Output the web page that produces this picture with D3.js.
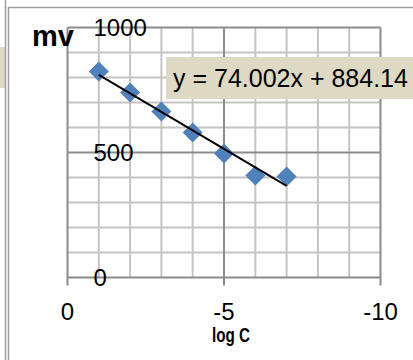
<!DOCTYPE html>
<html>
<head>
<meta charset="utf-8">
<script src="https://cdn.jsdelivr.net/npm/d3@7"></script>
<style>
    body { margin: 0; background: #fff; }
    svg { display: block; }
</style>
</head>
<body>
<div id="vis"></div>
<script>
// data
var logC = [-1, -2, -3, -4, -5, -6, -7];
var mv = [824, 740, 664, 580, 496, 408, 404];
var xTicks = [0, -5, -10];
var yTicks = [0, 500, 1000];
var slope = 74.002;
var intercept = 884.14;
var equation = "y = 74.002x + 884.14";

(function () {
    /* ****** Sizes ****** */
    var width = 413;
    var height = 360;
    var plot = { left: 67.5, top: 27.5, right: 380.5, bottom: 277.5 };

    var svg = d3.select("#vis")
        .append("svg")
        .attr("width", width)
        .attr("height", height);

    /* ****** Outer frame bits ****** */
    svg.append("rect")
        .attr("x", 0).attr("y", 47)
        .attr("width", 5).attr("height", 41)
        .attr("fill", "#ddd9c3");
    svg.append("line")
        .attr("x1", 5.5).attr("x2", 5.5).attr("y1", 0).attr("y2", height)
        .attr("stroke", "#a0a0a0").attr("stroke-width", 1.5);
    svg.append("line")
        .attr("x1", 8.5).attr("x2", 8.5).attr("y1", 7).attr("y2", height)
        .attr("stroke", "#a0a0a0").attr("stroke-width", 1.5);
    svg.append("line")
        .attr("x1", 8.5).attr("x2", width).attr("y1", 7.5).attr("y2", 7.5)
        .attr("stroke", "#a0a0a0").attr("stroke-width", 1.5);

    /* ****** Scales ****** */
    var x = d3.scaleLinear().domain([0, -10]).range([plot.left, plot.right]);
    var y = d3.scaleLinear().domain([0, 1000]).range([plot.bottom, plot.top]);

    var g = svg.append("g");

    /* ****** Grid ****** */
    var minorX = d3.range(1, 10).map(function (i) { return -i; }).filter(function (v) { return v % 5 != 0; });
    var minorY = d3.range(100, 1000, 100).filter(function (v) { return v % 500 != 0; });

    g.selectAll(".vminor").data(minorX).enter().append("line")
        .attr("x1", function (d) { return x(d); }).attr("x2", function (d) { return x(d); })
        .attr("y1", plot.top).attr("y2", plot.bottom)
        .attr("stroke", "#c4c4c4").attr("stroke-width", 2);
    g.selectAll(".hminor").data(minorY).enter().append("line")
        .attr("y1", function (d) { return y(d); }).attr("y2", function (d) { return y(d); })
        .attr("x1", plot.left).attr("x2", plot.right)
        .attr("stroke", "#c4c4c4").attr("stroke-width", 2);

    g.selectAll(".vmajor").data(xTicks).enter().append("line")
        .attr("x1", function (d) { return x(d); }).attr("x2", function (d) { return x(d); })
        .attr("y1", plot.top).attr("y2", plot.bottom + 8)
        .attr("stroke", "#8c8c8c").attr("stroke-width", 2);
    g.selectAll(".hmajor").data(yTicks).enter().append("line")
        .attr("y1", function (d) { return y(d); }).attr("y2", function (d) { return y(d); })
        .attr("x1", plot.left).attr("x2", plot.right)
        .attr("stroke", "#8c8c8c").attr("stroke-width", 2);

    /* ****** Tick labels ****** */
    g.selectAll(".ylab").data(yTicks).enter().append("text")
        .attr("x", plot.left + 26)
        .attr("y", function (d) { return y(d) + 8.5; })
        .attr("font-family", "Liberation Sans, Arial, sans-serif")
        .attr("font-size", 24)
        .attr("fill", "#000")
        .text(function (d) { return d; });

    g.selectAll(".xlab").data(xTicks).enter().append("text")
        .attr("x", function (d) { return x(d); })
        .attr("y", 320)
        .attr("text-anchor", "middle")
        .attr("font-family", "Liberation Sans, Arial, sans-serif")
        .attr("font-size", 24)
        .attr("fill", "#000")
        .text(function (d) { return d; });

    /* ****** Axis titles ****** */
    svg.append("text")
        .attr("x", 32).attr("y", 46)
        .attr("font-family", "Liberation Sans, Arial, sans-serif")
        .attr("font-weight", "bold")
        .attr("font-size", 29)
        .text("mv");

    svg.append("text")
        .attr("x", 212).attr("y", 342)
        .attr("font-family", "Liberation Sans, Arial, sans-serif")
        .attr("font-weight", "bold")
        .attr("font-size", 21)
        .attr("textLength", 38)
        .attr("lengthAdjust", "spacingAndGlyphs")
        .text("log C");

    /* ****** Points ****** */
    var pts = logC.map(function (d, i) { return [d, mv[i]]; });
    g.selectAll(".pt").data(pts).enter().append("path")
        .attr("d", d3.symbol().type(d3.symbolSquare).size(200))
        .attr("transform", function (d) { return "translate(" + x(d[0]) + "," + y(d[1]) + ") rotate(45)"; })
        .attr("fill", "#4f81bd");

    /* ****** Trend line ****** */
    var x0 = d3.max(logC), x1 = d3.min(logC);
    g.append("line")
        .attr("x1", x(x0)).attr("y1", y(slope * x0 + intercept))
        .attr("x2", x(x1)).attr("y2", y(slope * x1 + intercept))
        .attr("stroke", "#000").attr("stroke-width", 2);

    /* ****** Equation label ****** */
    svg.append("rect")
        .attr("x", 166).attr("y", 57)
        .attr("width", width - 166).attr("height", 42)
        .attr("fill", "#ddd9c3");
    svg.append("text")
        .attr("x", 173).attr("y", 87)
        .attr("font-family", "Liberation Sans, Arial, sans-serif")
        .attr("font-size", 25)
        .attr("fill", "#000")
        .text(equation);
})();
</script>
</body>
</html>
